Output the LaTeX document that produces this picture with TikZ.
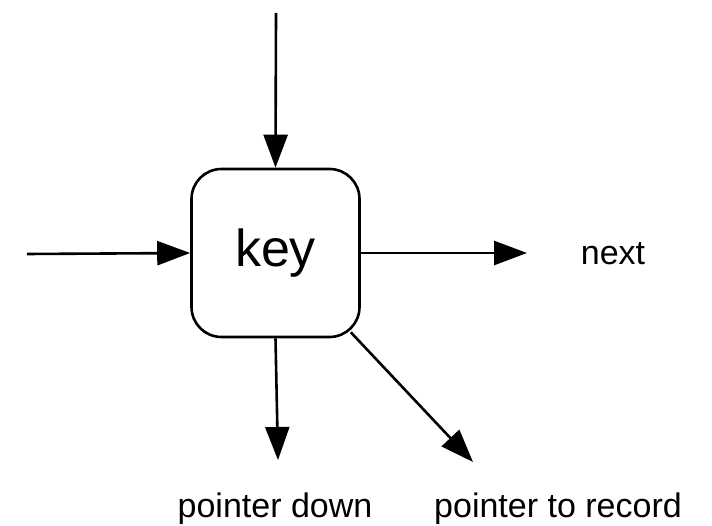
\documentclass[tikz,border=0pt]{standalone}
\usepackage{fontspec}
\setmainfont{Liberation Sans}
\usetikzlibrary{arrows.meta}
\begin{document}
\begin{tikzpicture}[x=1pt,y=-1pt,
  conn/.style={line width=2.6pt,-{Triangle[length=33pt,width=24pt]}},
  keybox/.style={draw,line width=2.6pt,rounded corners=30pt,minimum width=168pt,minimum height=168pt,inner sep=0pt,font=\fontsize{52}{52}\selectfont},
  lbl/.style={anchor=base,inner sep=0pt,font=\fontsize{34}{34}\selectfont}]
\useasboundingbox (0,0) rectangle (712,526);
\node[keybox] (box) at (275.5,253) {\raisebox{-3pt}{key}};
\coordinate (topin) at (276,13);
\coordinate (leftin) at (27,254);
\coordinate (rightout) at (527,253);
\coordinate (downout) at (278,460);
\coordinate (diagout) at (473,462);
\coordinate (diagin) at ([shift={(-10,-6)}]box.south east);
\draw[conn] (topin) -- (box.north);
\draw[conn] (leftin) -- (box.west);
\draw[conn] (box.east) -- (rightout);
\draw[conn] (box.south) -- (downout);
\draw[conn] (diagin) -- (diagout);
\node[lbl] (next) at (613,265) {next};
\node[lbl] (pdown) at (275,517) {pointer down};
\node[lbl] (prec) at (558,517) {pointer to record};
\end{tikzpicture}
\end{document}
